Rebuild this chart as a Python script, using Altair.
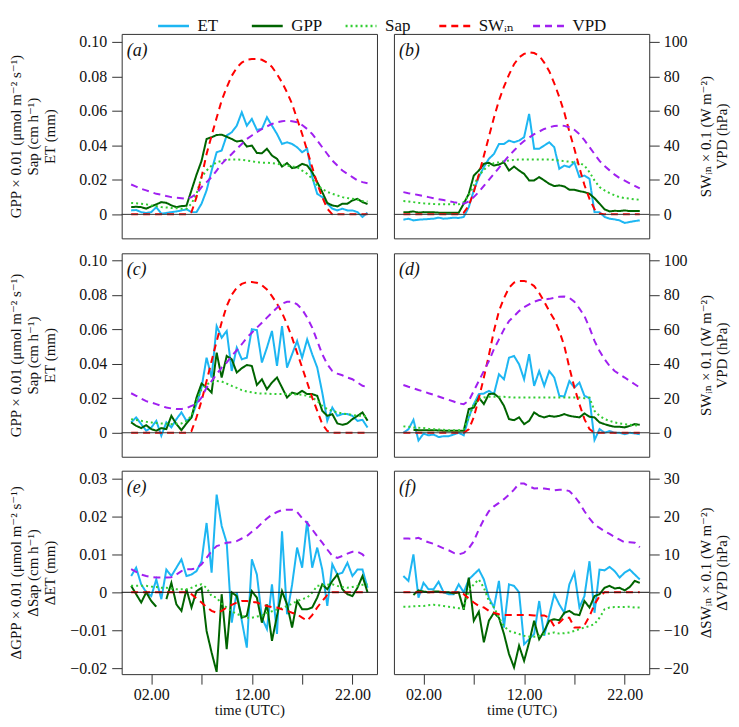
import altair as alt
import pandas as pd

FONT = "Liberation Serif, DejaVu Serif, serif"

TIME = [0.0, 0.5, 1.0, 1.5, 2.0, 2.5, 3.0, 3.5, 4.0, 4.5, 5.0, 5.5,
        6.0, 6.5, 7.0, 7.5, 8.0, 8.5, 9.0, 9.5, 10.0, 10.5, 11.0, 11.5,
        12.0, 12.5, 13.0, 13.5, 14.0, 14.5, 15.0, 15.5, 16.0, 16.5, 17.0, 17.5,
        18.0, 18.5, 19.0, 19.5, 20.0, 20.5, 21.0, 21.5, 22.0, 22.5, 23.0, 23.5]

SERIES = ["ET", "GPP", "Sap", "SWᵢₙ", "VPD"]
COLORS = ["#1DB6F2", "#006400", "#32CD32", "#FF0000", "#A020F0"]
DASHES = [[1, 0], [1, 0], [2, 3], [7, 5], [7, 5]]

# ---- panel (a) ----
ET_A = [0.0023, 0.0025, 0.0013, 0.0008, 0.0013, 0.0042, 0.0004, 0.0008, 0.0013, 0.0017,
        0.0023, 0.0029, 0.0013, 0.0013, 0.0062, 0.0139, 0.0254, 0.036, 0.037, 0.0457,
        0.0476, 0.0514, 0.0592, 0.0514, 0.0553, 0.049, 0.0495, 0.0563, 0.0514, 0.0466,
        0.0408, 0.0418, 0.0408, 0.0389, 0.036, 0.038, 0.0216, 0.0119, 0.01, 0.0062,
        0.0033, 0.0023, 0.0033, 0.0023, 0.0023, 0.0013, -0.0015, 0.001]
GPP_A = [0.0042, 0.0044, 0.0042, 0.0033, 0.0046, 0.0058, 0.0071, 0.0067, 0.0052, 0.0042,
         0.0048, 0.005, 0.014, 0.023, 0.031, 0.0437, 0.0447, 0.046, 0.0462, 0.045,
         0.0437, 0.0422, 0.0428, 0.0393, 0.0399, 0.0356, 0.0354, 0.038, 0.0341, 0.0322,
         0.0277, 0.0297, 0.0268, 0.0274, 0.0293, 0.0283, 0.0245, 0.0187, 0.0129, 0.0066,
         0.0052, 0.0046, 0.0062, 0.0062, 0.0081, 0.009, 0.0071, 0.006]
SAP_A = [0.0066, 0.0064, 0.0062, 0.0058, 0.0052, 0.0048, 0.0042, 0.004, 0.0037, 0.0036,
         0.0033, 0.0033, 0.0062, 0.0119, 0.0216, 0.0254, 0.0283, 0.0302, 0.031, 0.0316,
         0.0318, 0.0318, 0.0316, 0.0312, 0.0308, 0.0302, 0.03, 0.0299, 0.0297, 0.0293,
         0.0289, 0.0283, 0.0277, 0.0274, 0.0254, 0.0235, 0.0206, 0.0168, 0.0148, 0.013,
         0.0119, 0.011, 0.01, 0.0095, 0.0091, 0.0085, 0.0077, 0.0075]
SW_A = [0, 0, 0, 0, 0, 0, 0, 0, 0, 0, 0, 0,
        1.3, 10, 21.6, 35, 45.7, 56, 66, 73.6, 80.3, 85, 88, 89.6, 90, 90,
        89.6, 88, 85.5, 81.3, 76.5, 70.7, 64, 55.3, 46.6, 37, 27.4, 17.7, 10, 3.3,
        0, 0, 0, 0, 0, 0, 0, 0]
VPD_A = [17.3, 16.1, 14.8, 13.9, 12.9, 11.9, 11.4, 10.6, 10.0, 9.6,
         9.4, 9.0, 10.0, 11.9, 15.8, 18.7, 21.6, 25.4, 29.3, 32.2,
         35.0, 38.0, 40.8, 43.7, 45.7, 47.6, 49.5, 51.0, 52.4, 53.4,
         54.0, 54.3, 54.0, 53.4, 51.8, 49.5, 46.6, 42.8, 38.9, 35.0,
         31.2, 28.3, 25.4, 23.5, 21.6, 19.7, 18.7, 18.0]

# ---- panel (b) ----
ET_B = [-0.0031, -0.0025, -0.0035, -0.0031, -0.0029, -0.0027, -0.0025, -0.0019, -0.0025, -0.0023,
        -0.0019, -0.0021, -0.0015, 0.0042, 0.0139, 0.0216, 0.0274, 0.0322, 0.035, 0.0408,
        0.0408, 0.0428, 0.0418, 0.0428, 0.0447, 0.0582, 0.038, 0.038, 0.0399, 0.0418,
        0.0389, 0.0264, 0.0283, 0.0274, 0.0302, 0.0216, 0.0225, 0.0206, 0.0013, 0.0013,
        -0.0015, -0.0025, -0.0029, -0.0035, -0.005, -0.0044, -0.0039, -0.0035]
GPP_B = [0.0013, 0.0013, 0.0017, 0.001, 0.0013, 0.0012, 0.0012, 0.001, 0.001, 0.001,
         0.001, 0.001, 0.0062, 0.0119, 0.0225, 0.0254, 0.0293, 0.0299, 0.0283, 0.0289,
         0.0302, 0.0254, 0.0277, 0.0254, 0.0235, 0.0197, 0.0197, 0.0216, 0.0197, 0.0177,
         0.0164, 0.0168, 0.0162, 0.0143, 0.0143, 0.0135, 0.0129, 0.0119, 0.0094, 0.0062,
         0.0029, 0.0017, 0.0021, 0.0019, 0.0023, 0.0019, 0.0019, 0.0019]
SAP_B = [0.0077, 0.0075, 0.0071, 0.0067, 0.0064, 0.0062, 0.006, 0.0058, 0.0058, 0.0058,
         0.0058, 0.0058, 0.0071, 0.011, 0.0168, 0.0225, 0.0258, 0.0283, 0.0297, 0.0302,
         0.0308, 0.0312, 0.0316, 0.0318, 0.0318, 0.0318, 0.0318, 0.0318, 0.0318, 0.0318,
         0.0316, 0.0312, 0.0308, 0.0306, 0.0302, 0.0299, 0.0283, 0.0245, 0.0197, 0.0158,
         0.0139, 0.0123, 0.011, 0.01, 0.0094, 0.0091, 0.0087, 0.0085]
SW_B = [0, 0, 0, 0, 0, 0, 0, 0, 0, 0, 0, 0,
        1, 5, 13, 23, 34, 45, 56, 66, 74, 81, 87, 91, 93, 94,
        93.5, 92, 88, 83, 76, 68, 59, 48, 38, 27, 17, 9, 3, 0.5,
        0, 0, 0, 0, 0, 0, 0, 0]
VPD_B = [12.9, 12.3, 11.8, 11.2, 10.6, 10.0, 9.4, 8.8, 8.3, 7.7,
         7.1, 6.6, 6.2, 7.5, 10.0, 13.0, 16.5, 20.0, 23.5, 27.0,
         30.5, 34.0, 37.0, 40.0, 42.5, 44.5, 46.5, 48.0, 49.5, 50.5,
         51.2, 51.5, 51.3, 50.5, 49.0, 46.5, 43.0, 39.0, 35.0, 31.0,
         28.0, 25.5, 23.0, 21.0, 19.5, 18.0, 16.5, 15.0]

# ---- panel (c) ----
ET_C = [0.006, 0.0089, 0.005, 0.0012, 0.003, 0.0069, -0.0017, 0.006, 0.0031, 0.0079,
        0.0118, 0.0069, 0.0089, 0.0166, 0.0262, 0.0435, 0.032, 0.0618, 0.0551, 0.059,
        0.0358, 0.0493, 0.0426, 0.0435, 0.06, 0.0595, 0.0407, 0.0493, 0.059, 0.0387,
        0.0618, 0.0378, 0.0455, 0.0532, 0.0435, 0.0541, 0.0455, 0.0378, 0.0233, 0.0069,
        0.0146, 0.0098, 0.0108, 0.0108, 0.0098, 0.0069, 0.0075, 0.003]
GPP_C = [0.006, 0.004, 0.0027, 0.0044, 0.0021, 0.0012, 0.0027, 0.0021, 0.0098, 0.005,
         0.0015, 0.0054, 0.0089, 0.0204, 0.0285, 0.0262, 0.0233, 0.0464, 0.032, 0.0445,
         0.0426, 0.0349, 0.0374, 0.0393, 0.0387, 0.0277, 0.031, 0.0252, 0.0291, 0.032,
         0.0262, 0.0204, 0.0233, 0.0224, 0.0243, 0.0224, 0.0224, 0.0214, 0.0127, 0.0098,
         0.0108, 0.0054, 0.0046, 0.0054, 0.0079, 0.0098, 0.0118, 0.007]
SAP_C = [0.0079, 0.0074, 0.0069, 0.0064, 0.006, 0.0056, 0.0054, 0.0052, 0.005, 0.0052,
         0.0054, 0.0069, 0.0098, 0.0185, 0.0252, 0.0281, 0.0291, 0.03, 0.0297, 0.0285,
         0.0272, 0.026, 0.0247, 0.0239, 0.0235, 0.0229, 0.0227, 0.0227, 0.0225, 0.0224,
         0.0224, 0.0224, 0.0224, 0.0222, 0.022, 0.0214, 0.0204, 0.0185, 0.0156, 0.0137,
         0.0127, 0.0118, 0.0112, 0.0108, 0.0104, 0.0098, 0.0098, 0.0095]
SW_C = [0, 0, 0, 0, 0, 0, 0, 0, 0, 0, 0, 0,
        1, 9, 18.5, 30, 41.6, 53, 64, 73.4, 80, 84, 86.3, 87.3, 87.3, 86.9,
        85.5, 83, 79.2, 74.8, 69.6, 62.8, 55.1, 46.4, 37.8, 29.1, 20.4, 12.7, 5, 1,
        0, 0, 0, 0, 0, 0, 0, 0]
VPD_C = [22.9, 21.4, 19.8, 18.3, 17.5, 16.6, 15.6, 14.6, 14.1, 13.7,
         13.7, 14.3, 15.6, 16.6, 20.4, 26.2, 30.0, 33.9, 37.8, 40.7,
         44.5, 47.8, 51.3, 55.1, 58.0, 60.9, 63.8, 66.7, 69.6, 72.4,
         74.8, 75.9, 75.9, 74.4, 71.5, 66.7, 60.9, 53.2, 45.5, 39.7,
         35.8, 34.3, 33.3, 32.0, 31.0, 29.1, 27.2, 26.5]

# ---- panel (d) ----
ET_D = [0.0, 0.002, 0.0075, -0.0045, -0.0005, -0.0015, -0.001, -0.0025, -0.002, -0.002,
        -0.001, 0.0, -0.0015, 0.0089, 0.0166, 0.0224, 0.0227, 0.0243, 0.0224, 0.0339,
        0.031, 0.0435, 0.0445, 0.0397, 0.031, 0.0455, 0.0272, 0.0358, 0.0272, 0.0358,
        0.032, 0.0214, 0.021, 0.03, 0.0262, 0.0291, 0.0214, 0.02, -0.0042, 0.0021,
        0.0, 0.001, 0.0, 0.0, -0.0008, 0.0, -0.0004, -0.0008]
GPP_D = [None, None, 0.0017, 0.0015, 0.0015, 0.0015, 0.0015, 0.0013, 0.0012, 0.0012,
         0.0012, 0.0012, 0.0012, 0.0137, 0.0146, 0.0204, 0.0166, 0.0224, 0.0227, 0.0204,
         0.0156, 0.0079, 0.0073, 0.0089, 0.005, 0.0069, 0.0118, 0.0098, 0.0089, 0.0098,
         0.0093, 0.0098, 0.0108, 0.0098, 0.0093, 0.0089, 0.0112, 0.0093, 0.0089, 0.006,
         0.005, 0.0041, 0.0035, 0.0035, 0.0031, 0.004, 0.005, 0.0046]
SAP_D = [0.0037, 0.0035, 0.0031, 0.0029, 0.0027, 0.0023, 0.0021, 0.0019, 0.0017, 0.0015,
         0.0015, 0.0015, 0.0021, 0.0089, 0.0166, 0.0195, 0.0204, 0.0208, 0.0208, 0.0208,
         0.0208, 0.0206, 0.0204, 0.0204, 0.0204, 0.0204, 0.0204, 0.0204, 0.0204, 0.0204,
         0.0204, 0.0204, 0.0204, 0.0204, 0.0204, 0.0204, 0.02, 0.0204, 0.0127, 0.0098,
         0.0079, 0.0069, 0.006, 0.0054, 0.005, 0.0046, 0.0044, 0.004]
SW_D = [0, 0, 0, 0, 0, 0, 0, 0, 0, 0, 0, 0, 0,
        2, 9, 20, 32, 45, 59, 70.5, 78, 84, 87, 88, 88, 87,
        85, 81, 76, 70.5, 65.7, 59, 50.3, 37.8, 26.2, 16.6, 7.9, 2.1,
        0, 0, 0, 0, 0, 0, 0, 0, 0, 0]
VPD_D = [27.7, 26.7, 25.8, 24.8, 23.9, 22.9, 22.0, 21.0, 20.0, 19.1,
         18.1, 17.0, 16.6, 18.5, 24.3, 30.0, 35.8, 41.6, 48.4, 54.1,
         59.9, 64.7, 67.6, 70.5, 72.8, 74.4, 75.9, 76.9, 77.3, 77.6,
         78.2, 78.8, 79.0, 78.2, 75.9, 72.0, 67.6, 60.9, 53.2, 47.4,
         42.6, 38.7, 35.8, 33.9, 32.0, 30.0, 28.1, 26.2]

# ---- panel (e) ----
ET_E = [0.0043, 0.0065, 0.0021, 0.0, -0.001, 0.0034, -0.0018, 0.006, 0.0043, 0.0065,
        0.0087, 0.0043, 0.0047, 0.0056, 0.0082, 0.0183, 0.0052, 0.0258, 0.0175, 0.0131,
        -0.008, 0.0, -0.0075, -0.0146, 0.0087, 0.0047, -0.0067, -0.0097, 0.0021, -0.011,
        0.0161, -0.0058, 0.002, 0.0118, 0.0065, 0.0188, 0.0065, 0.0118, 0.006, -0.0036,
        0.0074, 0.0047, 0.0052, 0.0078, 0.0043, 0.006, 0.006, 0.0012]
GPP_E = [0.0017, -0.0005, -0.0027, 0.0, -0.0023, -0.0038, None, -0.0018, 0.0025, -0.0032,
         -0.0049, 0.0008, -0.004, 0.0003, 0.0012, -0.0102, -0.0159, -0.021, -0.0005, -0.015,
         0.0, -0.001, -0.0067, -0.0062, 0.0003, -0.0014, -0.008, -0.0032, -0.0128, -0.0062,
         0.0003, -0.0032, -0.0093, -0.0023, -0.0045, -0.0045, -0.004, -0.0014, 0.0021, 0.0008,
         0.003, 0.0047, 0.0008, -0.0005, -0.001, 0.0012, 0.0043, 0.0]
SAP_E = [0.0017, 0.0017, 0.0017, 0.0017, 0.0015, 0.0014, 0.0012, 0.0012, 0.001, 0.0008,
         0.0008, 0.0008, 0.0012, 0.0018, 0.0021, 0.0012, -0.001, -0.0014, -0.003, -0.004,
         -0.005, -0.0057, -0.0062, -0.0067, -0.0067, -0.0064, -0.0062, -0.0054, -0.005, -0.0045,
         -0.0042, -0.0036, -0.003, -0.0023, -0.0018, -0.0014, -0.0001, 0.0017, 0.0018, 0.002,
         0.0021, 0.0017, 0.0014, 0.0012, 0.0014, 0.0017, 0.002, 0.0021]
SW_E = [0, 0, 0, 0, 0, 0, 0, 0, 0, 0, 0, 0,
        -0.5, -1.6, -2.7, -3.9, -4.9, -5.4, -4.9, -4.0, -3.3, -2.7, -2.3, -2.3, -2.5, -2.7,
        -3.2, -3.6, -3.9, -4.0, -4.5, -4.9, -5.4, -5.8, -6.7, -7.5, -6.0, -4.0, -2.3, -0.7,
        0, 0, 0, 0, 0, 0, 0, 0]
VPD_E = [6.1, 5.4, 4.7, 4.3, 4.0, 3.9, 3.9, 3.9, 4.0, 4.7,
         5.6, 6.1, 6.1, 6.3, 7.4, 9.1, 10.9, 12.2, 12.6, 13.1,
         13.2, 13.5, 14.2, 14.8, 16.0, 17.0, 18.3, 19.5, 20.5, 21.2,
         21.7, 21.8, 21.8, 21.2, 19.6, 18.3, 16.6, 14.8, 13.1, 11.3,
         9.6, 9.1, 9.6, 10.2, 10.7, 10.7, 10.0, 8.7]

# ---- panel (f) ----
ET_F = [0.0043, 0.003, 0.01, -0.0014, 0.0025, 0.0008, 0.0008, 0.0028, 0.0, -0.0005,
        -0.0005, 0.0021, 0.0, 0.0034, 0.0047, 0.006, 0.0034, -0.0014, -0.004, 0.003,
        -0.0093, 0.0021, 0.0017, 0.0, -0.0137, -0.0124, -0.011, -0.0023, -0.0115, -0.006,
        -0.0005, -0.0032, -0.0054, 0.0021, 0.0052, -0.004, -0.001, 0.0082, -0.0054, 0.006,
        0.0058, 0.0067, 0.0056, 0.0039, 0.0052, 0.006, 0.0047, 0.0034]
GPP_F = [None, None, -0.0007, 0.0005, 0.0002, 0.0, 0.0002, 0.0002, 0.0, 0.0,
         -0.0003, 0.0, -0.0046, 0.0039, -0.0075, -0.0051, -0.0132, -0.0075, -0.0054, -0.0067,
         -0.011, -0.0163, -0.0198, -0.0141, -0.0181, -0.0132, -0.0075, -0.0124, -0.0102, -0.0075,
         -0.0071, -0.0074, -0.0054, -0.0049, -0.0058, -0.006, -0.0023, -0.004, -0.001, -0.0005,
         0.0012, 0.0017, 0.001, 0.0012, 0.0005, 0.0014, 0.003, 0.0025]
SAP_F = [-0.0038, -0.0038, -0.0037, -0.0036, -0.0036, -0.0034, -0.0033, -0.0034, -0.0036, -0.0038,
         -0.004, -0.0042, -0.0042, 0.0005, 0.0021, 0.0034, 0.0012, -0.0023, -0.004, -0.0067,
         -0.0089, -0.0102, -0.0106, -0.011, -0.0115, -0.0117, -0.0117, -0.0115, -0.011, -0.0109,
         -0.0106, -0.0109, -0.0108, -0.0106, -0.0102, -0.0097, -0.0093, -0.0089, -0.0084, -0.0067,
         -0.0045, -0.004, -0.0039, -0.0039, -0.0039, -0.0038, -0.004, -0.004]
SW_F = [0, 0, 0, 0, 0, 0, 0, 0, 0, 0, 0, 0,
        -0.5, -1.6, -2.7, -3.6, -4.0, -4.9, -5.4, -5.8, -6.0, -6.0, -6.0, -6.0, -6.0, -6.0,
        -6.1, -6.1, -6.1, -6.7, -9.0, -8.0, -6.7, -6.7, -9.3, -9.3, -8.7, -6.3, -3.2, -1.0,
        0, 0, 0, 0, 0, 0, 0, 0]
VPD_F = [14.2, 14.2, 14.1, 14.4, 13.7, 13.2, 12.8, 12.2, 11.6, 11.1,
         10.4, 10.0, 10.4, 11.6, 13.5, 16.6, 19.2, 21.4, 22.7, 23.6,
         24.6, 25.8, 27.1, 28.7, 28.7, 28.0, 27.4, 27.5, 27.4, 27.2,
         26.9, 27.1, 27.1, 26.7, 25.4, 23.6, 21.4, 19.5, 17.9, 17.0,
         16.1, 15.4, 14.6, 13.9, 13.2, 13.2, 13.1, 11.9]

PANELS = {
    "a": (ET_A, GPP_A, SAP_A, SW_A, VPD_A),
    "b": (ET_B, GPP_B, SAP_B, SW_B, VPD_B),
    "c": (ET_C, GPP_C, SAP_C, SW_C, VPD_C),
    "d": (ET_D, GPP_D, SAP_D, SW_D, VPD_D),
    "e": (ET_E, GPP_E, SAP_E, SW_E, VPD_E),
    "f": (ET_F, GPP_F, SAP_F, SW_F, VPD_F),
}

# right-axis series (SW x 0.1, VPD) share the plot with a factor of 1000
RIGHT_FACTOR = 1000.0

rows = []
for key, arrs in PANELS.items():
    for s_idx, (name, arr) in enumerate(zip(SERIES, arrs)):
        for t, v in zip(TIME, arr):
            if v is None:
                val = None
            elif s_idx >= 3:
                val = v / RIGHT_FACTOR
            else:
                val = v
            rows.append({"panel": key, "series": name, "hour": t, "value": val})
df = pd.DataFrame(rows)

X_DOMAIN = [-0.94, 24.44]
Y_DOMAINS = [[-0.0139, 0.1046], [-0.0139, 0.104], [-0.0216, 0.0321]]
Y_TICKS = [[0, 0.02, 0.04, 0.06, 0.08, 0.1], [0, 0.02, 0.04, 0.06, 0.08, 0.1],
           [-0.02, -0.01, 0, 0.01, 0.02, 0.03]]
HEIGHTS = [205, 204, 204]
TITLES_L = [["GPP × 0.01 (μmol m⁻² s⁻¹)", "Sap (cm h⁻¹)", "ET (mm)"],
            ["GPP × 0.01 (μmol m⁻² s⁻¹)", "Sap (cm h⁻¹)", "ET (mm)"],
            ["ΔGPP × 0.01 (μmol m⁻² s⁻¹)", "ΔSap (cm h⁻¹)", "ΔET (mm)"]]
TITLES_R = [["SWᵢₙ × 0.1 (W m⁻²)", "VPD (hPa)"],
            ["SWᵢₙ × 0.1 (W m⁻²)", "VPD (hPa)"],
            ["ΔSWᵢₙ × 0.1 (W m⁻²)", "ΔVPD (hPa)"]]
X_TICKS = [2, 7, 12, 17, 22]
X_LABELS = "datum.value == 2 ? '02.00' : datum.value == 12 ? '12.00' : datum.value == 22 ? '22.00' : ''"
LEFT_LABELS = "datum.value == 0 ? '0' : format(datum.value, '.2f')"
RIGHT_LABELS = "format(round(datum.value * 1000), 'd')"

LEG = alt.Legend(title=None, orient="none", legendX=35, legendY=-25, direction="horizontal",
                 columns=5, gridAlign="all", columnPadding=13, symbolType="stroke",
                 symbolSize=960, symbolStrokeWidth=2.5, labelFont=FONT, labelFontSize=17,
                 labelOffset=7, labelColor="#111")

ONE = pd.DataFrame({"z": [0]})


def make_panel(key, row, col):
    sub = df[df["panel"] == key]
    yscale = alt.Scale(domain=Y_DOMAINS[row], nice=False, zero=False)
    if col == 0:
        yaxis = alt.Axis(orient="left", values=Y_TICKS[row], labelExpr=LEFT_LABELS,
                         title=TITLES_L[row], minExtent=50, maxExtent=50, titlePadding=14,
                         titleLineHeight=17, tickSize=10, labelPadding=5)
    else:
        yaxis = alt.Axis(orient="right", values=Y_TICKS[row], labelExpr=RIGHT_LABELS,
                         title=TITLES_R[row], titleAngle=270, titleBaseline="top",
                         minExtent=32, maxExtent=32, titlePadding=0, titleLineHeight=17,
                         tickSize=10, labelPadding=4)
    if row == 2:
        xaxis = alt.Axis(values=X_TICKS, labelExpr=X_LABELS, title="time (UTC)",
                         tickSize=10, labelPadding=2, titlePadding=0)
    else:
        xaxis = None
    lines = alt.Chart(sub).mark_line(strokeWidth=2, invalid="break-paths-show-domains").encode(
        x=alt.X("hour:Q", scale=alt.Scale(domain=X_DOMAIN, nice=False, zero=False), axis=xaxis),
        y=alt.Y("value:Q", scale=yscale, axis=yaxis),
        color=alt.Color("series:N", scale=alt.Scale(domain=SERIES, range=COLORS), legend=LEG),
        strokeDash=alt.StrokeDash("series:N", scale=alt.Scale(domain=SERIES, range=DASHES), legend=LEG),
    )
    zero = alt.Chart(ONE).mark_rule(color="#333" if row < 2 else "#111", strokeWidth=1).encode(
        y=alt.Y("z:Q", scale=yscale, axis=yaxis)
    )
    label = alt.Chart(ONE).mark_text(font=FONT, fontStyle="italic", fontSize=18, align="left",
                                     baseline="middle", color="#111").encode(
        x=alt.value(5), y=alt.value(17), text=alt.value("(" + key + ")")
    )
    return alt.layer(lines, zero, label).properties(width=256, height=HEIGHTS[row])


chart = alt.vconcat(
    alt.hconcat(make_panel("a", 0, 0), make_panel("b", 0, 1), spacing=15),
    alt.hconcat(make_panel("c", 1, 0), make_panel("d", 1, 1), spacing=15),
    alt.hconcat(make_panel("e", 2, 0), make_panel("f", 2, 1), spacing=15),
    spacing=12,
).properties(padding=0, background="white").configure_view(
    stroke="#333", strokeWidth=1
).configure_axis(
    grid=False, domain=False, labelFont=FONT, titleFont=FONT, labelFontSize=16,
    titleFontSize=15, titleFontWeight="normal", tickColor="#333", labelColor="#111",
    titleColor="#111", titleLineHeight=17
)

chart.save("out.html", embed_options={"renderer": "svg", "actions": False})
